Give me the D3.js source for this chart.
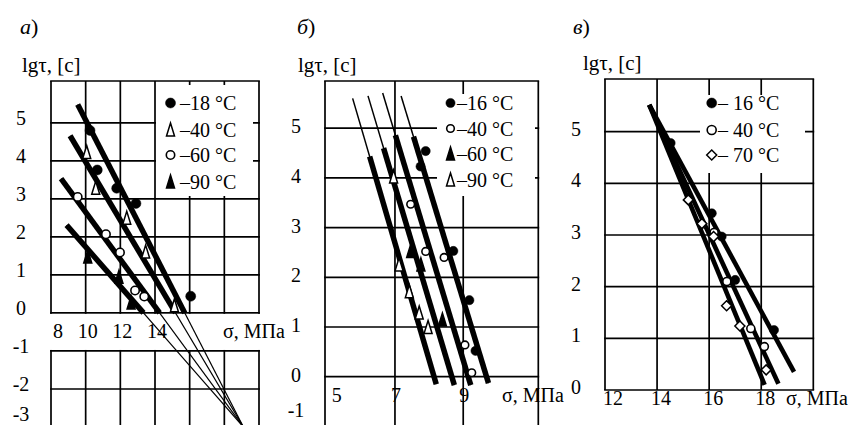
<!DOCTYPE html>
<html>
<head>
  <meta charset="UTF-8">
  <title>Durability chart</title>
<script src="https://d3js.org/d3.v7.min.js"></script>
</head>
<body style="margin:0">
<div id="chart"></div>

  <script>

// ---- panel а) ----
const aTemps = ['–18 °C', '–40 °C', '–60 °C', '–90 °C'];
const aStress18 = [10.25, 10.67, 11.79, 12.9, 16.06];
const aLog18    = [4.80, 3.76, 3.28, 2.88, 0.44];
const aStress40 = [10.06, 10.58, 12.37, 13.46, 15.12];
const aLog40    = [4.22, 3.28, 2.49, 1.60, 0.19];
const aStress60 = [9.54, 11.17, 11.98, 12.85, 13.38];
const aLog60    = [3.05, 2.07, 1.59, 0.59, 0.43];
const aStress90 = [10.12, 11.92, 12.62];
const aLog90    = [1.47, 0.94, 0.26];
// fitted lines: upper start, all meet in one pole
const aLineStartX = [9.54, 9.10, 8.58, 8.90];
const aLineStartY = [5.48, 4.66, 3.53, 2.31];
const aPole = [19.1, -3];
const aXTicks = [8, 10, 12, 14];
const aYTicks = [5, 4, 3, 2, 1, 0, -1, -2, -3];

// ---- panel б) ----
const bTemps = ['–16 °C', '–40 °C', '–60 °C', '–90 °C'];
const bStress16 = [7.90, 7.75, 8.71, 9.18, 9.36];
const bLog16    = [4.54, 4.23, 2.53, 1.54, 0.52];
const bStress40 = [7.46, 7.90, 8.44, 9.05, 9.25];
const bLog40    = [3.47, 2.52, 2.40, 0.64, 0.08];
const bStress60 = [7.46, 7.76, 8.39];
const bLog60    = [2.52, 2.25, 1.14];
const bStress90 = [6.96, 7.12, 7.42, 7.71, 7.97];
const bLog90    = [4.02, 2.25, 1.71, 1.28, 0.99];
// lines listed -90, -60, -40, -16
const bTopX = [5.76, 6.21, 6.64, 7.18];
const bTopY = [5.60, 5.65, 5.71, 5.65];
const bEndX = [8.21, 8.74, 9.22, 9.74];
const bEndY = [-0.15, -0.17, -0.17, -0.13];
const bThickFromY = [4.43, 4.60, 4.86, 4.83];
const bXTicks = [5, 7, 9];
const bYTicks = [5, 4, 3, 2, 1, 0, -1];

// ---- panel в) ----
const cTemps = ['– 16 °C', '– 40 °C', '– 70 °C'];
const cStress16 = [14.52, 16.10, 16.48, 17.0, 18.49];
const cLog16    = [4.78, 3.42, 2.97, 2.13, 1.16];
const cStress40 = [15.71, 16.19, 16.68, 17.60, 18.12];
const cLog40    = [3.21, 3.05, 2.10, 1.19, 0.84];
const cStress70 = [15.20, 15.72, 16.17, 16.67, 17.18, 18.19];
const cLog70    = [3.68, 3.22, 2.97, 1.63, 1.24, 0.39];
const cStart = [13.70, 5.52];
const cEndX = [19.26, 18.66, 18.13];
const cEndY = [0.35, 0.12, 0.10];
const cXTicks = [12, 14, 16, 18];
const cYTicks = [5, 4, 3, 2, 1, 0];

const width = 859, height = 425;
const svg = d3.select('#chart').append('svg')
  .attr('width', width).attr('height', height);

const zip = (xs, ys) => xs.map((v, i) => [v, ys[i]]);
const triPath = 'M0,-7L4,6L-4,6Z';
const diamondPath = 'M0,-5L5,0L0,5L-5,0Z';

function gridLines(g, x, y, xs, ys, w) {
  const [x0, x1] = x.domain(), [y0, y1] = y.domain();
  g.selectAll(null).data(xs).enter().append('line')
    .attr('x1', d => x(d)).attr('x2', d => x(d))
    .attr('y1', y(y1)).attr('y2', y(y0))
    .attr('stroke', '#000').attr('stroke-width', w);
  g.selectAll(null).data(ys).enter().append('line')
    .attr('x1', x(x0) - w / 2).attr('x2', x(x1) + w / 2)
    .attr('y1', d => y(d)).attr('y2', d => y(d))
    .attr('stroke', '#000').attr('stroke-width', w);
}

function marker(g, pts, x, y, kind, r) {
  const sel = g.selectAll(null).data(pts).enter();
  if (kind === 'dot' || kind === 'ring') {
    sel.append('circle')
      .attr('cx', d => x(d[0])).attr('cy', d => y(d[1])).attr('r', r)
      .attr('fill', kind === 'dot' ? '#000' : '#fff')
      .attr('stroke', '#000').attr('stroke-width', kind === 'dot' ? 0.5 : 1.6);
  } else {
    sel.append('path')
      .attr('d', kind === 'diamond' ? diamondPath : triPath)
      .attr('transform', d => `translate(${x(d[0])},${y(d[1])})`)
      .attr('fill', kind === 'tri' ? '#000' : '#fff')
      .attr('stroke', '#000').attr('stroke-width', 1.5)
      .attr('stroke-linejoin', 'miter');
  }
}

// every text goes through here: size as attribute, face as the only style rule
function serif(sel, size) {
  return sel.attr('font-size', size)
    .style('font-family', d => `'Liberation Serif'`);
}

function txt(g, x, y, s, size) {
  return serif(g.append('text').attr('x', x).attr('y', y), size || 20).text(s);
}

function legend(g, items, lx, ly0, dys, tx) {
  items.forEach((it, i) => {
    const yy = ly0 + dys[i];
    marker(g, [[0, 0]], v => lx, v => yy, it.kind, it.r);
    txt(g, tx, yy + 7, it.label);
  });
}

function header(letter, x, tx, ty) {
  const t = serif(svg.append('text').attr('x', x).attr('y', 34), 22);
  t.append('tspan').attr('font-style', 'italic').text(letter);
  t.append('tspan').text(')');
  txt(svg, tx, ty, 'lgτ, [с]', 21);
}

function ticks(g, data, fx, fy, anchor) {
  serif(g.selectAll(null).data(data).enter().append('text')
    .attr('x', fx).attr('y', fy)
    .attr('text-anchor', anchor), 20)
    .text(d => d);
}

const line = (x, y) => d3.line().x(d => x(d[0])).y(d => y(d[1]));

// ================= panel а =================
{
  const x = d3.scaleLinear().domain([8, 20]).range([51, 259]);
  const y = d3.scaleLinear().domain([-3, 6.1]).range([427, 81]);
  const g = svg.append('g');
  gridLines(g, x, y, d3.range(8, 21, 2), [6.1, ...aYTicks], 1.7);

  g.append('rect').attr('x', 156).attr('y', 85).attr('width', 97).attr('height', 111).attr('fill', '#fff');
  g.append('rect').attr('x', 49).attr('y', y(0) + 1).attr('width', 242)
    .attr('height', y(-1) - y(0) - 2).attr('fill', '#fff');

  const mk = line(x, y);
  aLineStartX.forEach((sx, i) => {
    const sy = aLineStartY[i];
    const t = sy / (sy - aPole[1]);
    const zx = sx + t * (aPole[0] - sx);
    g.append('path').attr('d', mk([[sx, sy], [zx, 0]]))
      .attr('stroke', '#000').attr('stroke-width', 5.5).attr('fill', 'none');
    g.append('path').attr('d', mk([[sx, sy], aPole]))
      .attr('stroke', '#000').attr('stroke-width', 1.2).attr('fill', 'none');
  });

  marker(g, zip(aStress18, aLog18), x, y, 'dot', 5);
  marker(g, zip(aStress40, aLog40), x, y, 'otri');
  marker(g, zip(aStress60, aLog60), x, y, 'ring', 4.2);
  marker(g, zip(aStress90, aLog90), x, y, 'tri');

  legend(g, [
    { kind: 'dot', r: 5, label: aTemps[0] },
    { kind: 'otri', label: aTemps[1] },
    { kind: 'ring', r: 4.2, label: aTemps[2] },
    { kind: 'tri', label: aTemps[3] }
  ], 170.5, 103, [0, 27, 52, 79], 180);

  ticks(g, aXTicks, d => d === 8 ? x(d) + 7 : x(d) + 2, 338, 'middle');
  txt(g, 223, 338, 'σ, МПа');
  ticks(g, aYTicks, 21, d => Math.min(y(d) - 5, 414) + 7, 'middle');
  header('а', 20, 22, 72);
}

// ================= panel б =================
{
  const x = d3.scaleLinear().domain([4.95, 11.2]).range([325, 538.3]);
  const y = d3.scaleLinear().domain([-1, 5.95]).range([426.4, 81]);
  const g = svg.append('g');
  gridLines(g, x, y, [4.95, 7, 9, 11.2], [5.95, ...bYTicks], 1.7);

  g.append('rect').attr('x', 437).attr('y', 94).attr('width', 98).attr('height', 102).attr('fill', '#fff');

  const mk = line(x, y);
  bTopX.forEach((tx, i) => {
    const ty = bTopY[i], ex = bEndX[i], ey = bEndY[i];
    const t = (ty - bThickFromY[i]) / (ty - ey);
    const kx = tx + t * (ex - tx);
    g.append('path').attr('d', mk([[tx, ty], [ex, ey]]))
      .attr('stroke', '#000').attr('stroke-width', 1.5).attr('fill', 'none');
    g.append('path').attr('d', mk([[kx, bThickFromY[i]], [ex, ey]]))
      .attr('stroke', '#000').attr('stroke-width', 5.5).attr('fill', 'none');
  });

  marker(g, zip(bStress16, bLog16), x, y, 'dot', 4.6);
  marker(g, zip(bStress40, bLog40), x, y, 'ring', 3.8);
  marker(g, zip(bStress60, bLog60), x, y, 'tri');
  marker(g, zip(bStress90, bLog90), x, y, 'otri');

  legend(g, [
    { kind: 'dot', r: 4.6, label: bTemps[0] },
    { kind: 'ring', r: 3.8, label: bTemps[1] },
    { kind: 'tri', label: bTemps[2] },
    { kind: 'otri', label: bTemps[3] }
  ], 450.5, 103, [0, 25.5, 51, 77], 457);

  ticks(g, bXTicks, d => d === 5 ? x(d) + 10 : x(d) + 1, 402, 'middle');
  txt(g, 502, 402, 'σ, МПа');
  ticks(g, bYTicks, 296, d => Math.min(y(d) - 2, 410) + 7, 'middle');
  header('б', 297, 298, 72);
}

// ================= panel в =================
{
  const x = d3.scaleLinear().domain([12, 20]).range([605, 813.3]);
  const y = d3.scaleLinear().domain([0, 6.02]).range([390, 79]);
  const g = svg.append('g');
  gridLines(g, x, y, d3.range(12, 21, 2), [6.02, ...cYTicks], 1.7);

  g.append('rect').attr('x', 700).attr('y', 95).attr('width', 105).attr('height', 78).attr('fill', '#fff');

  const mk = line(x, y);
  cEndX.forEach((ex, i) => {
    g.append('path').attr('d', mk([cStart, [ex, cEndY[i]]]))
      .attr('stroke', '#000').attr('stroke-width', 4.6).attr('fill', 'none');
  });

  marker(g, zip(cStress16, cLog16), x, y, 'dot', 4.6);
  marker(g, zip(cStress40, cLog40), x, y, 'ring', 4);
  marker(g, zip(cStress70, cLog70), x, y, 'diamond');

  legend(g, [
    { kind: 'dot', r: 5, label: cTemps[0] },
    { kind: 'ring', r: 4.5, label: cTemps[1] },
    { kind: 'diamond', label: cTemps[2] }
  ], 711.7, 103, [0, 27, 52], 718);

  ticks(g, cXTicks, d => d === 12 ? x(d) + 8 : x(d) + 4, 405, 'middle');
  txt(g, 786, 405, 'σ, МПа');
  ticks(g, cYTicks, 576, d => y(d) - 3 + 7, 'middle');
  header('в', 573, 583, 70);
}

  </script>
</body>
</html>
